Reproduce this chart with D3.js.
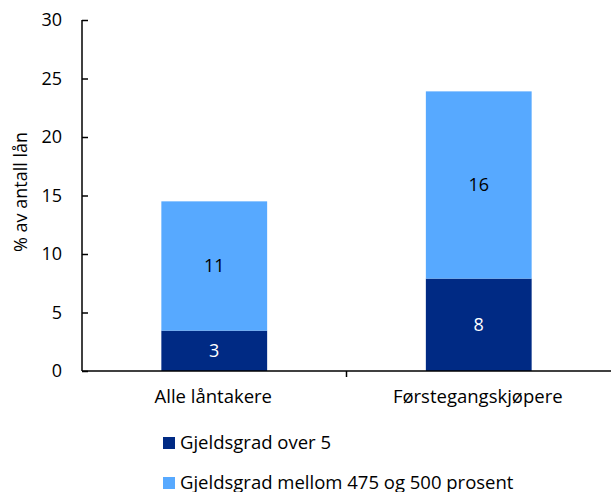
<!DOCTYPE html>
<html>
<head>
<meta charset="utf-8">
<script src="https://cdn.jsdelivr.net/npm/d3@7"></script>
<style>
  body { margin: 0; background: #fff; }
  text { font-family: "Open Sans", sans-serif; fill: #000; }
</style>
</head>
<body>
<div id="chart"></div>
<script>
var categories = ["Alle låntakere", "Førstegangskjøpere"];
var over5 = [3.45, 7.9];
var between475and500 = [11.05, 16.0];
var seriesNames = ["Gjeldsgrad over 5", "Gjeldsgrad mellom 475 og 500 prosent"];
var yTicks = [0, 5, 10, 15, 20, 25, 30];

var colors = ["#002a84", "#57a9ff"];

var W = 611, H = 492;
var margin = { top: 20, right: 0, bottom: 121, left: 82 };
var width = W - margin.left - margin.right,
  height = H - margin.top - margin.bottom;

var svg = d3.select("#chart").append("svg")
  .attr("width", W).attr("height", H);

var g = svg.append("g")
  .attr("transform", "translate(" + margin.left + "," + margin.top + ")");

var x = d3.scaleBand().domain(categories).range([0, width]).paddingInner(0.6).paddingOuter(0.3);
var y = d3.scaleLinear().domain([0, 30]).range([height, 0]);

// stack data
var rows = categories.map(function(c, i) {
  return { cat: c, over5: over5[i], mid: between475and500[i] };
});
var stack = d3.stack().keys(["over5", "mid"])(rows);

stack.forEach(function(layer, li) {
  g.selectAll(".bar" + li)
    .data(layer)
    .enter().append("rect")
    .attr("x", function(d) { return x(d.data.cat); })
    .attr("width", x.bandwidth())
    .attr("y", function(d) { return y(d[1]); })
    .attr("height", function(d) { return y(d[0]) - y(d[1]); })
    .attr("fill", colors[li]);

  g.selectAll(".lab" + li)
    .data(layer)
    .enter().append("text")
    .attr("x", function(d) { return x(d.data.cat) + x.bandwidth() / 2; })
    .attr("y", function(d) { return (y(d[0]) + y(d[1])) / 2; })
    .attr("dy", "0.35em")
    .attr("text-anchor", "middle")
    .style("font-size", "18px")
    .style("fill", li == 0 ? "#fff" : "#000")
    .text(function(d) { return Math.round(d[1] - d[0]); });
});

// y axis, ticks pointing inward
var yAxis = g.append("g").call(d3.axisRight(y).tickValues(yTicks).tickSize(6));
yAxis.select(".domain").attr("d", "M0,0V" + height).attr("stroke", "#000").attr("stroke-width", 1.5);
yAxis.selectAll(".tick line").attr("stroke", "#000").attr("stroke-width", 1.5);
yAxis.selectAll(".tick text")
  .attr("x", -20).attr("text-anchor", "end")
  .style("font-size", "18px").style("font-family", "Open Sans, sans-serif");

// x axis with separator tick between categories
var xAxisG = g.append("g").attr("transform", "translate(0," + height + ")");
xAxisG.append("line")
  .attr("x1", 0).attr("x2", width)
  .attr("stroke", "#000").attr("stroke-width", 1.5);
xAxisG.append("line")
  .attr("x1", width / 2).attr("x2", width / 2)
  .attr("y1", 0).attr("y2", 6)
  .attr("stroke", "#000").attr("stroke-width", 1.5);
xAxisG.selectAll(".xl")
  .data(categories)
  .enter().append("text")
  .attr("x", function(d) { return x(d) + x.bandwidth() / 2 - 1; })
  .attr("y", 32)
  .attr("text-anchor", "middle")
  .style("font-size", "18.5px")
  .text(function(d) { return d; });

// y title
svg.append("text")
  .attr("transform", "translate(27,192) rotate(-90)")
  .attr("text-anchor", "middle")
  .style("font-size", "18px")
  .text("% av antall lån");

// legend
var legend = svg.append("g").attr("transform", "translate(163,437)");
seriesNames.forEach(function(name, i) {
  var row = legend.append("g").attr("transform", "translate(0," + (i * 40) + ")");
  row.append("rect").attr("width", 12).attr("height", 12).attr("fill", colors[i]);
  row.append("text").attr("x", 17).attr("y", 6).attr("dy", "0.35em")
    .style("font-size", "18.5px").text(name);
});
</script>
</body>
</html>
